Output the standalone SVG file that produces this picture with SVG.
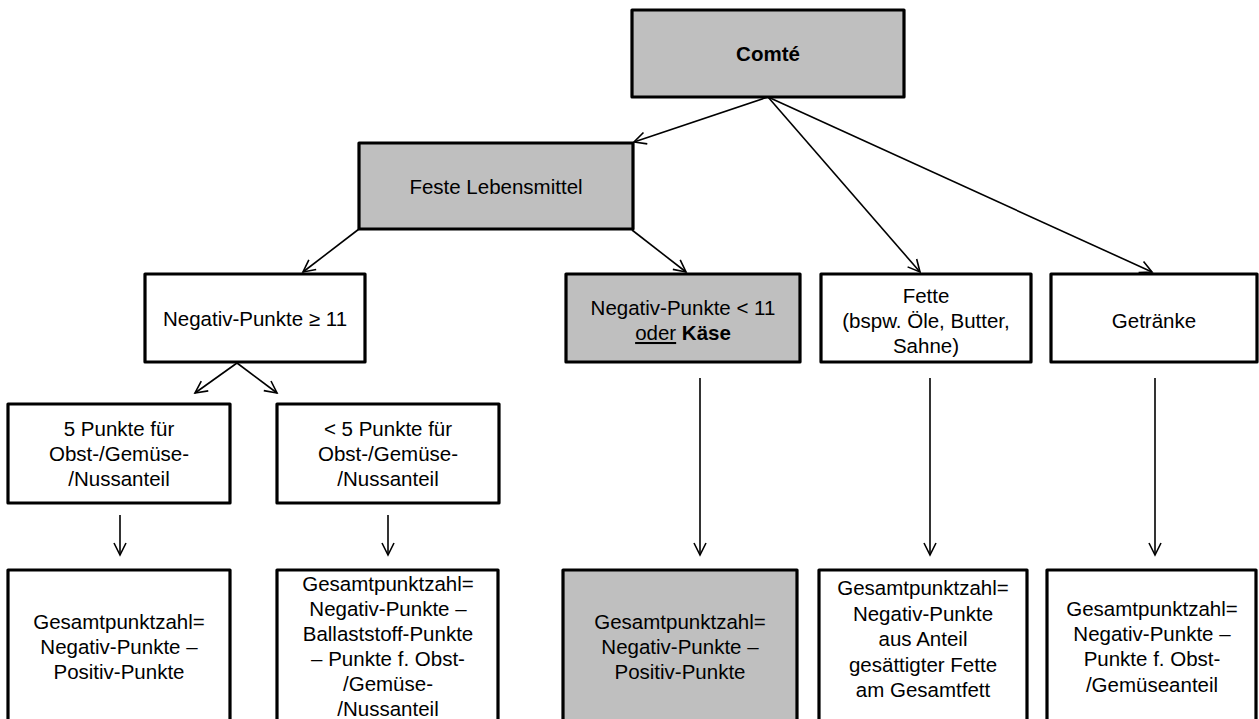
<svg xmlns="http://www.w3.org/2000/svg" width="1259" height="719" viewBox="0 0 1259 719">
<style>
.box{fill:#ffffff;stroke:#000000;stroke-width:3.2;stroke-linejoin:round}
.gray{fill:#bfbfbf}
.t{font-family:"Liberation Sans",Arial,sans-serif;font-size:20.5px;fill:#000000;text-anchor:middle}
.b{font-weight:bold}
.c{fill:none;stroke:#000000;stroke-width:1.6}
</style>
<defs>
<marker id="arr" markerUnits="userSpaceOnUse" markerWidth="16" markerHeight="16" viewBox="0 0 16 16" refX="14" refY="8" orient="auto">
<path d="M2,2 L14,8 L2,14" fill="none" stroke="#000000" stroke-width="1.6"/>
</marker>
</defs>
<rect width="1259" height="719" fill="#ffffff"/>
<g id="connectors">
<line class="c" x1="768" y1="97" x2="634" y2="142" marker-end="url(#arr)"/>
<line class="c" x1="768" y1="97" x2="920" y2="272" marker-end="url(#arr)"/>
<line class="c" x1="768" y1="97" x2="1152" y2="272" marker-end="url(#arr)"/>
<line class="c" x1="359" y1="229" x2="303" y2="272" marker-end="url(#arr)"/>
<line class="c" x1="632" y1="230" x2="686" y2="272" marker-end="url(#arr)"/>
<line class="c" x1="237" y1="363" x2="195" y2="393" marker-end="url(#arr)"/>
<line class="c" x1="237" y1="363" x2="277" y2="393" marker-end="url(#arr)"/>
<line class="c" x1="120" y1="515" x2="120" y2="555" marker-end="url(#arr)"/>
<line class="c" x1="388" y1="515" x2="388" y2="555" marker-end="url(#arr)"/>
<line class="c" x1="700" y1="378" x2="700" y2="555" marker-end="url(#arr)"/>
<line class="c" x1="930" y1="378" x2="930" y2="555" marker-end="url(#arr)"/>
<line class="c" x1="1155" y1="378" x2="1155" y2="555" marker-end="url(#arr)"/>
</g>
<g id="comte">
<rect class="box gray" x="632" y="10" width="272" height="87"/>
<text class="t b" x="768" y="61">Comté</text>
</g>
<g id="feste">
<rect class="box gray" x="359" y="143" width="274" height="86"/>
<text class="t" x="496" y="194">Feste Lebensmittel</text>
</g>
<g id="neg-ge11">
<rect class="box" x="145" y="274" width="220" height="88"/>
<text class="t" x="255" y="326">Negativ-Punkte ≥ 11</text>
</g>
<g id="neg-lt11">
<rect class="box gray" x="566" y="274" width="234" height="88"/>
<text class="t" x="683" y="315">Negativ-Punkte &lt; 11</text>
<text class="t" x="683" y="340"><tspan text-decoration="underline">oder</tspan> <tspan class="b">Käse</tspan></text>
</g>
<g id="fette">
<rect class="box" x="821" y="274" width="210" height="88"/>
<text class="t" x="926" y="303">Fette</text>
<text class="t" x="926" y="328">(bspw. Öle, Butter,</text>
<text class="t" x="926" y="353">Sahne)</text>
</g>
<g id="getraenke">
<rect class="box" x="1051" y="274" width="206" height="88"/>
<text class="t" x="1154" y="328">Getränke</text>
</g>
<g id="p5">
<rect class="box" x="8" y="404" width="222" height="99"/>
<text class="t" x="119" y="436">5 Punkte  für</text>
<text class="t" x="119" y="461">Obst-/Gemüse-</text>
<text class="t" x="119" y="486">/Nussanteil</text>
</g>
<g id="plt5">
<rect class="box" x="277" y="404" width="222" height="99"/>
<text class="t" x="388" y="436">&lt; 5 Punkte  für</text>
<text class="t" x="388" y="461">Obst-/Gemüse-</text>
<text class="t" x="388" y="486">/Nussanteil</text>
</g>
<g id="res1">
<rect class="box" x="8" y="570" width="222" height="170"/>
<text class="t" x="119" y="629">Gesamtpunktzahl=</text>
<text class="t" x="119" y="654">Negativ-Punkte  –</text>
<text class="t" x="119" y="679">Positiv-Punkte</text>
</g>
<g id="res2">
<rect class="box" x="277" y="570" width="221" height="170"/>
<text class="t" x="388" y="591">Gesamtpunktzahl=</text>
<text class="t" x="388" y="616">Negativ-Punkte  –</text>
<text class="t" x="388" y="641">Ballaststoff-Punkte</text>
<text class="t" x="388" y="666">– Punkte  f. Obst-</text>
<text class="t" x="388" y="691">/Gemüse-</text>
<text class="t" x="388" y="716">/Nussanteil</text>
</g>
<g id="res3">
<rect class="box gray" x="563" y="570" width="234" height="170"/>
<text class="t" x="680" y="629">Gesamtpunktzahl=</text>
<text class="t" x="680" y="654">Negativ-Punkte  –</text>
<text class="t" x="680" y="679">Positiv-Punkte</text>
</g>
<g id="res4">
<rect class="box" x="819" y="570" width="208" height="170"/>
<text class="t" x="923" y="595">Gesamtpunktzahl=</text>
<text class="t" x="923" y="621">Negativ-Punkte</text>
<text class="t" x="923" y="646">aus Anteil</text>
<text class="t" x="923" y="672">gesättigter Fette</text>
<text class="t" x="923" y="697">am Gesamtfett</text>
</g>
<g id="res5">
<rect class="box" x="1047" y="570" width="209" height="170"/>
<text class="t" x="1152" y="616">Gesamtpunktzahl=</text>
<text class="t" x="1152" y="641">Negativ-Punkte  –</text>
<text class="t" x="1152" y="666">Punkte  f. Obst-</text>
<text class="t" x="1152" y="692">/Gemüseanteil</text>
</g>
</svg>
